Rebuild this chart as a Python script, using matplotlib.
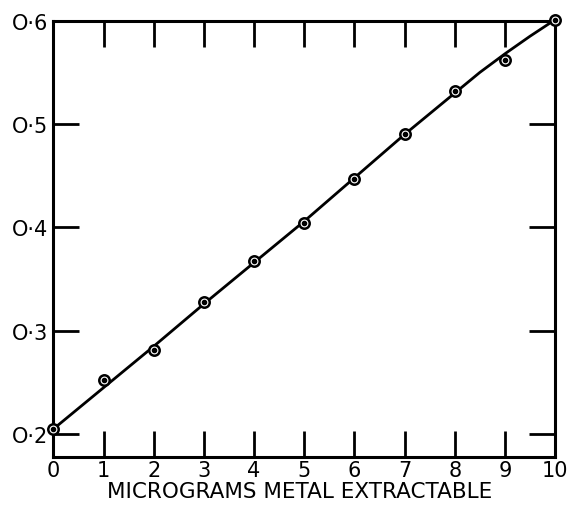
import matplotlib.pyplot as plt
import numpy as np

# measured points
metal = [0, 1, 2, 3, 4, 5, 6, 7, 8, 9, 10]
reading = [0.205, 0.252, 0.281, 0.328, 0.368, 0.404, 0.447, 0.490, 0.532, 0.562, 0.601]

# drawn calibration curve
curve_x = [0, 1, 2, 3, 4, 5, 6, 7, 8, 8.5, 9, 9.5, 10]
curve_y = [0.205, 0.245, 0.285, 0.326, 0.366, 0.406, 0.448, 0.490, 0.530, 0.550, 0.568, 0.585, 0.601]

x_ticks = list(range(11))
x_labels = [str(v) for v in x_ticks]
y_ticks = [0.2, 0.3, 0.4, 0.5, 0.6]
y_labels = ["O·2", "O·3", "O·4", "O·5", "O·6"]

fig = plt.figure(figsize=(5.8, 5.06), dpi=100)
ax = fig.add_axes([0.092, 0.095, 0.865, 0.862])

ax.plot(curve_x, curve_y, color="black", lw=2.0, zorder=2)
ax.plot(metal, reading, ls="none", marker="o", ms=7.5, mfc="white", mec="black", mew=1.8,
        zorder=3, clip_on=False)
ax.plot(metal, reading, ls="none", marker="o", ms=3, color="black", zorder=4, clip_on=False)

ax.set_xlim(0, 10)
ax.set_ylim(0.178, 0.6)

ax.set_xticks(x_ticks)
ax.set_xticklabels(x_labels)
ax.set_yticks(y_ticks)
ax.set_yticklabels(y_labels)

ax.tick_params(axis="both", direction="in", length=19, width=2, labelsize=15,
               top=True, right=True, pad=4, colors="black")
ax.tick_params(axis="x", pad=2)

for s in ax.spines.values():
    s.set_linewidth(2.2)

ax.text(0.49, -0.078, "MICROGRAMS METAL EXTRACTABLE", transform=ax.transAxes,
        ha="center", va="center", fontsize=15.5)

fig.savefig("out.png", dpi=100)
